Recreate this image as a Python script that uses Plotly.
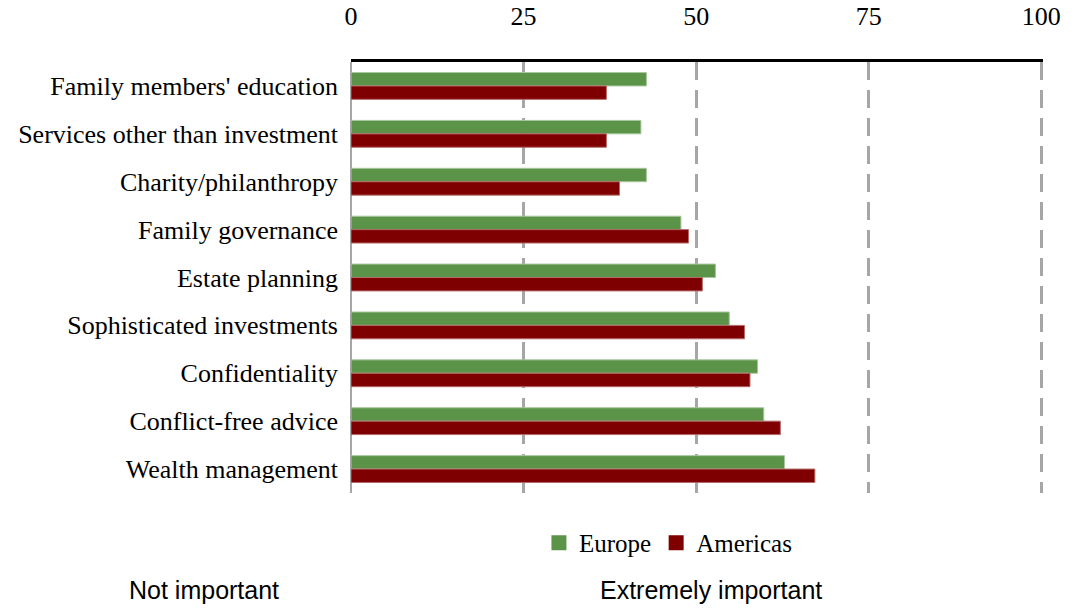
import plotly.graph_objects as go

# Importance of services, share of respondents (%)
categories = [
    "Family members' education",
    "Services other than investment",
    "Charity/philanthropy",
    "Family governance",
    "Estate planning",
    "Sophisticated investments",
    "Confidentiality",
    "Conflict-free advice",
    "Wealth management",
]
europe = [42.8, 42.0, 42.8, 47.8, 52.8, 54.8, 58.9, 59.8, 62.8]
americas = [37.0, 37.0, 38.9, 48.9, 50.9, 57.0, 57.8, 62.2, 67.2]
x_ticks = [0, 25, 50, 75, 100]

serif = "Liberation Serif, Times New Roman, serif"
sans = "Liberation Sans, Arial, sans-serif"
green = "#5B9448"
red = "#7F0000"

fig = go.Figure()
fig.add_trace(go.Bar(
    y=categories, x=europe, name="Europe", orientation="h", showlegend=False,
    marker=dict(color=green, line=dict(color="#A9C79E", width=1)),
))
fig.add_trace(go.Bar(
    y=categories, x=americas, name="Americas", orientation="h", showlegend=False,
    marker=dict(color=red, line=dict(color="#B46A6A", width=1)),
))
# legend entries with square swatches
for name, color in [("Europe", green), ("Americas", red)]:
    fig.add_trace(go.Scatter(
        x=[None], y=[None], mode="markers", name=name,
        marker=dict(symbol="square", size=15, color=color),
    ))

fig.update_layout(
    width=1084, height=613,
    margin=dict(l=351, r=41, t=62, b=120, autoexpand=False),
    paper_bgcolor="white", plot_bgcolor="white",
    barmode="group", bargap=0.44, bargroupgap=0,
    font=dict(family=serif, size=25, color="black"),
    showlegend=True,
    legend=dict(
        orientation="h", x=0.458, xanchor="center", y=-0.116, yanchor="middle",
        font=dict(family=serif, size=25), itemwidth=30, tracegroupgap=0,
    ),
    xaxis=dict(
        side="top", range=[0, 100.25], tickvals=x_ticks,
        ticktext=[str(v) for v in x_ticks],
        showline=True, linecolor="black", linewidth=3,
        showgrid=True, gridcolor="#A6A6A6", gridwidth=2.5, griddash="18px,10px",
        zeroline=True, zerolinecolor="#A6A6A6", zerolinewidth=2,
        ticks="", ticklabelstandoff=24, automargin=False,
        tickfont=dict(family=serif, size=26),
        fixedrange=True,
    ),
    yaxis=dict(
        autorange="reversed", showgrid=False, ticks="",
        showline=False, ticklabelstandoff=12, automargin=False,
        tickfont=dict(family=serif, size=26),
        fixedrange=True,
    ),
    annotations=[
        dict(text="Not important", xref="paper", yref="paper",
             x=(127 - 351) / 692, y=(493 - 590) / 431,
             xanchor="left", yanchor="middle", showarrow=False,
             font=dict(family=sans, size=25, color="black")),
        dict(text="Extremely important", xref="paper", yref="paper",
             x=(598 - 351) / 692, y=(493 - 590) / 431,
             xanchor="left", yanchor="middle", showarrow=False,
             font=dict(family=sans, size=25, color="black")),
    ],
)

fig.write_html("out.html")
